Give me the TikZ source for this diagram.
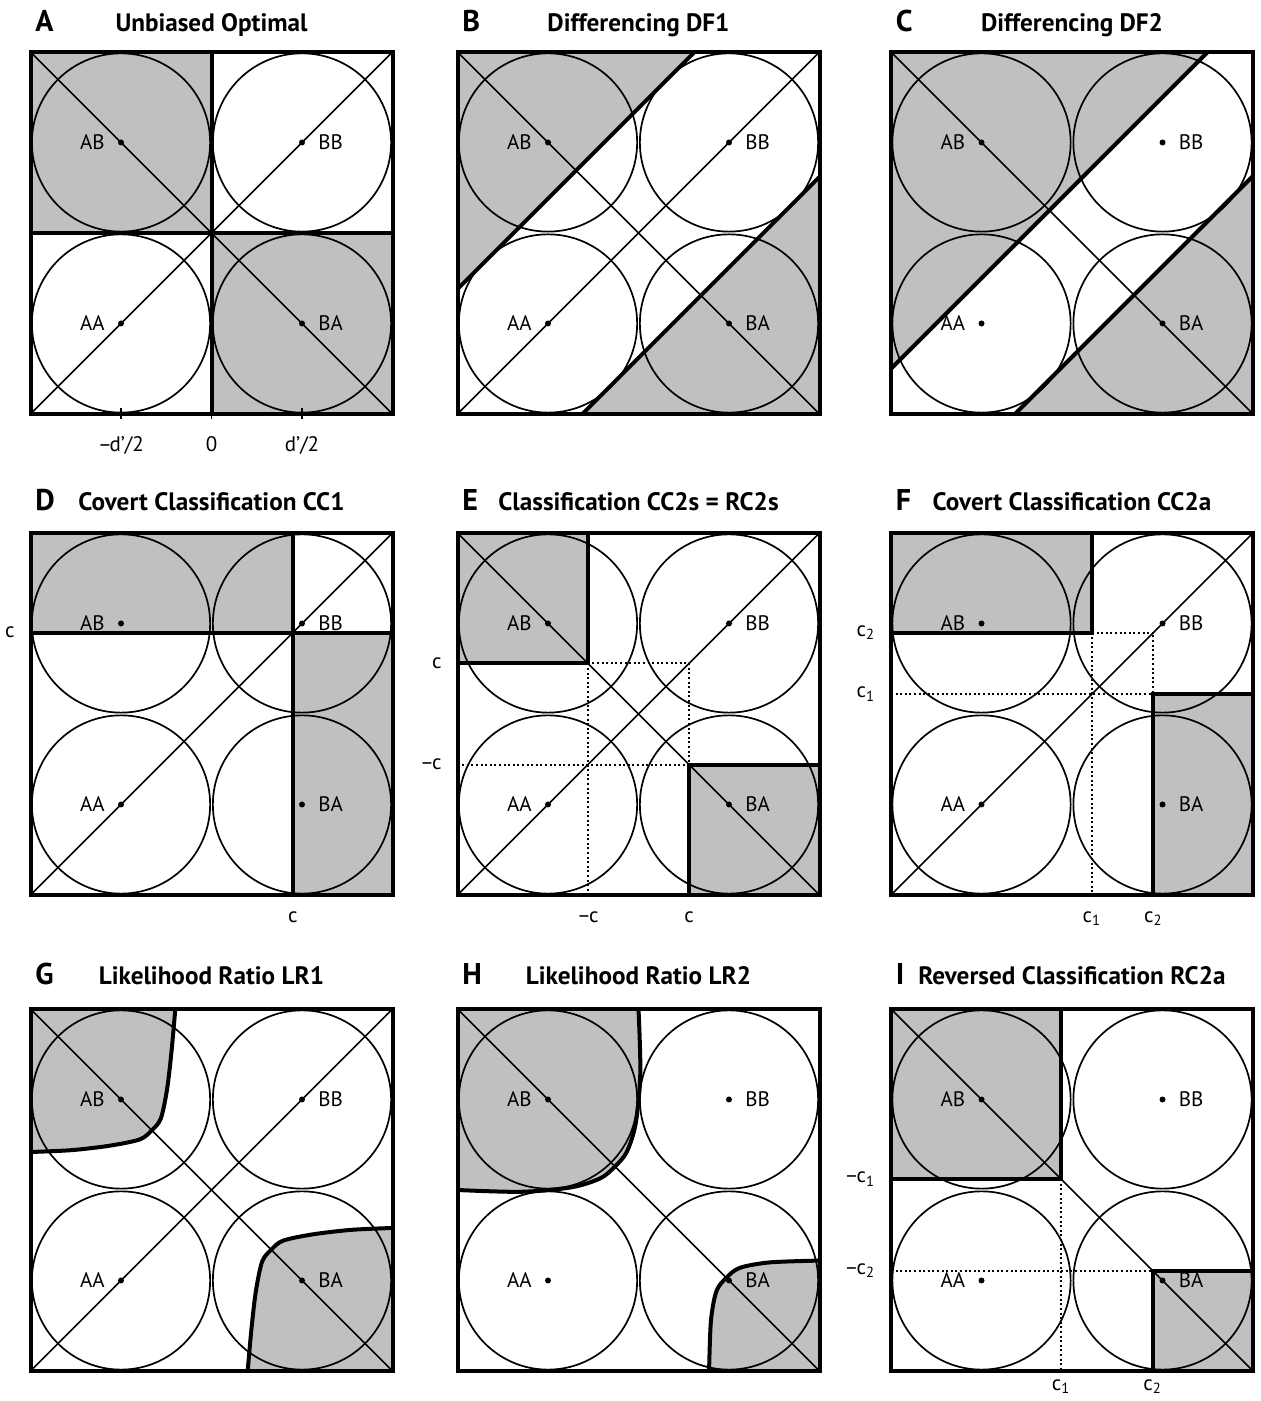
\documentclass[tikz,border=0pt]{standalone}
\usepackage{fontspec}
\setmainfont{PT Sans}
\usepackage{tikz}
\definecolor{sdtgray}{RGB}{190,192,194}

% pieces shared by all nine panels (panel units: disk radius = 1)
\newcommand{\disks}{\draw[fine] (-1,1) circle (0.985) (1,1) circle (0.985)
  (-1,-1) circle (0.985) (1,-1) circle (0.985);}
\newcommand{\maindiag}{\draw[fine] (-2,-2)--(2,2);}
\newcommand{\antidiag}{\draw[fine] (-2,2)--(2,-2);}
\newcommand{\panelbox}{\draw[heavy] (-2,-2) rectangle (2,2);}
\newcommand{\centres}[1]{%
\fill (-1,1) circle (1.5pt) (1,1) circle (1.5pt) (-1,-1) circle (1.5pt) (1,-1) circle (1.5pt);
\node[lbl,left=7pt] (#1ab) at (-1,1) {AB};
\node[lbl,right=7pt] (#1bb) at (1,1) {BB};
\node[lbl,left=7pt] (#1aa) at (-1,-1) {AA};
\node[lbl,right=7pt] (#1ba) at (1,-1) {BA};}
% likelihood-ratio borders
\newcommand{\lrone}{(-0.40,2) (-0.44,1.55) (-0.49,1.12) (-0.56,0.79) (-0.66,0.66)
  (-0.79,0.56) (-1.12,0.49) (-1.55,0.44) (-2,0.42)}
\newcommand{\lronerot}{(0.40,-2) (0.44,-1.55) (0.49,-1.12) (0.56,-0.79) (0.66,-0.66)
  (0.79,-0.56) (1.12,-0.49) (1.55,-0.44) (2,-0.42)}
\newcommand{\lrtwo}{(0,2) (0.02,1.3) (-0.03,0.74) (-0.13,0.42) (-0.26,0.26)
  (-0.42,0.13) (-0.74,0.03) (-1.3,-0.02) (-2,0)}
\newcommand{\lrtwoba}{(0.78,-2) (0.8,-1.45) (0.86,-1.12) (0.97,-0.97)
  (1.12,-0.86) (1.45,-0.8) (2,-0.78)}

\begin{document}
\begin{tikzpicture}[x=0.5pt,y=0.5pt,
  fine/.style={line width=0.85pt},
  heavy/.style={line width=2pt},
  dots/.style={line width=1pt,dash pattern=on 1pt off 1.3pt},
  area/.style={fill=sdtgray},
  lbl/.style={font=\fontsize{10.5}{12}\selectfont,inner sep=1pt},
  ttl/.style={font=\bfseries\fontsize{12.6}{15}\selectfont,anchor=base,inner sep=0pt},
  plet/.style={font=\bfseries\fontsize{15}{17}\selectfont,anchor=base west,inner sep=0pt}]
\useasboundingbox (0,0) rectangle (1261,1401);

% A
\begin{scope}[shift={(211.5,1168)},x=45.25pt,y=45.25pt]
\node[plet] (letA) at (-1.95,2.23) {A};
\node[ttl] (ttlA) at (0,2.23) {Unbiased Optimal};
\fill[area] (-2,0) rectangle (0,2) (0,-2) rectangle (2,0);
\disks \maindiag \antidiag
\draw[heavy] (-2,0)--(2,0) (0,2)--(0,-2);
\panelbox
\draw[fine] (-1,-1.93)--(-1,-2.06) (1,-1.93)--(1,-2.06) (0,-2)--(0,-2.06);
\centres{A}
\node[lbl,anchor=base] (Adl) at (-1,-2.42) {–\kern-1.2pt d’/2};
\node[lbl,anchor=base] (Ad0) at (0,-2.42) {0};
\node[lbl,anchor=base] (Adr) at (1,-2.42) {d’/2};
\end{scope}

% B
\begin{scope}[shift={(638.5,1168)},x=45.25pt,y=45.25pt]
\node[plet] (letB) at (-1.95,2.23) {B};
\node[ttl] (ttlB) at (0,2.23) {Differencing DF1};
\fill[area] (-2,2)--(-2,-0.62)--(0.62,2)--cycle (2,-2)--(-0.62,-2)--(2,0.62)--cycle;
\disks \maindiag \antidiag
\draw[heavy] (-2,-0.62)--(0.62,2) (-0.62,-2)--(2,0.62);
\panelbox
\centres{B}
\end{scope}

% C
\begin{scope}[shift={(1072,1168)},x=45.25pt,y=45.25pt]
\node[plet] (letC) at (-1.95,2.23) {C};
\node[ttl] (ttlC) at (0,2.23) {Differencing DF2};
\fill[area] (-2,2)--(-2,-1.5)--(1.5,2)--cycle (2,-2)--(-0.63,-2)--(2,0.63)--cycle;
\disks \antidiag
\draw[heavy] (-2,-1.5)--(1.5,2) (-0.63,-2)--(2,0.63);
\panelbox
\centres{C}
\end{scope}

% D
\begin{scope}[shift={(211.5,687)},x=45.25pt,y=45.25pt]
\node[plet] (letD) at (-1.95,2.25) {D};
\node[ttl] (ttlD) at (0,2.25) {Covert Classification CC1};
\fill[area] (-2,0.9) rectangle (0.9,2) (0.9,-2) rectangle (2,0.9);
\disks \maindiag
\draw[heavy] (-2,0.9)--(2,0.9) (0.9,2)--(0.9,-2);
\panelbox
\centres{D}
\node[lbl,anchor=east] (Dcy) at (-2.15,0.9) {c};
\node[lbl,anchor=base] (Dcx) at (0.9,-2.3) {c};
\end{scope}

% E
\begin{scope}[shift={(638.5,687)},x=45.25pt,y=45.25pt]
\node[plet] (letE) at (-1.95,2.25) {E};
\node[ttl] (ttlE) at (0,2.25) {Classification CC2s = RC2s};
\fill[area] (-2,0.56) rectangle (-0.56,2) (0.56,-2) rectangle (2,-0.56);
\disks \maindiag \antidiag
\draw[dots] (-0.56,0.56)--(0.56,0.56)--(0.56,-0.56) (-2,-0.56)--(0.56,-0.56)
  (-0.56,0.56)--(-0.56,-2);
\draw[heavy] (-2,0.56)--(-0.56,0.56)--(-0.56,2) (0.56,-2)--(0.56,-0.56)--(2,-0.56);
\panelbox
\centres{E}
\node[lbl,anchor=east] (Ecy) at (-2.15,0.56) {c};
\node[lbl,anchor=east] (Emcy) at (-2.15,-0.56) {–\kern-1pt c};
\node[lbl,anchor=base] (Emcx) at (-0.56,-2.3) {–\kern-1pt c};
\node[lbl,anchor=base] (Ecx) at (0.56,-2.3) {c};
\end{scope}

% F
\begin{scope}[shift={(1072,687)},x=45.25pt,y=45.25pt]
\node[plet] (letF) at (-1.95,2.25) {F};
\node[ttl] (ttlF) at (0,2.25) {Covert Classification CC2a};
\fill[area] (-2,0.9) rectangle (0.22,2) (0.9,-2) rectangle (2,0.22);
\disks \maindiag
\draw[dots] (0.22,0.9)--(0.9,0.9)--(0.9,0.22) (-2,0.22)--(0.9,0.22)
  (0.22,0.9)--(0.22,-2);
\draw[heavy] (-2,0.9)--(0.22,0.9)--(0.22,2) (0.9,-2)--(0.9,0.22)--(2,0.22);
\panelbox
\centres{F}
\node[lbl,anchor=east] (Fctwoy) at (-2.15,0.9) {c\textsubscript{2}};
\node[lbl,anchor=east] (Fconey) at (-2.15,0.22) {c\textsubscript{1}};
\node[lbl,anchor=base] (Fconex) at (0.22,-2.3) {c\textsubscript{1}};
\node[lbl,anchor=base] (Fctwox) at (0.9,-2.3) {c\textsubscript{2}};
\end{scope}

% G
\begin{scope}[shift={(211.5,211)},x=45.25pt,y=45.25pt]
\node[plet] (letG) at (-1.95,2.27) {G};
\node[ttl] (ttlG) at (0,2.27) {Likelihood Ratio LR1};
\fill[area] (-2,2) -- plot[smooth] coordinates {\lrone} -- cycle;
\fill[area] (2,-2) -- plot[smooth] coordinates {\lronerot} -- cycle;
\disks \maindiag \antidiag
\draw[heavy] plot[smooth] coordinates {\lrone};
\draw[heavy] plot[smooth] coordinates {\lronerot};
\panelbox
\centres{G}
\end{scope}

% H
\begin{scope}[shift={(638.5,211)},x=45.25pt,y=45.25pt]
\node[plet] (letH) at (-1.95,2.27) {H};
\node[ttl] (ttlH) at (0,2.27) {Likelihood Ratio LR2};
\fill[area] (-2,2) -- plot[smooth] coordinates {\lrtwo} -- cycle;
\fill[area] (2,-2) -- plot[smooth] coordinates {\lrtwoba} -- cycle;
\disks \antidiag
\draw[heavy] plot[smooth] coordinates {\lrtwo};
\draw[heavy] plot[smooth] coordinates {\lrtwoba};
\panelbox
\centres{H}
\end{scope}

% I
\begin{scope}[shift={(1072,211)},x=45.25pt,y=45.25pt]
\node[plet] (letI) at (-1.95,2.27) {I};
\node[ttl] (ttlI) at (0,2.27) {Reversed Classification RC2a};
\fill[area] (-2,0.12) rectangle (-0.12,2) (0.89,-2) rectangle (2,-0.89);
\disks \antidiag
\draw[dots] (-0.12,0.12)--(-0.12,-2) (-2,-0.89)--(0.89,-0.89);
\draw[heavy] (-2,0.12)--(-0.12,0.12)--(-0.12,2) (0.89,-2)--(0.89,-0.89)--(2,-0.89);
\panelbox
\centres{I}
\node[lbl,anchor=east] (Imconey) at (-2.15,0.12) {–\kern-1pt c\textsubscript{1}};
\node[lbl,anchor=east] (Imctwoy) at (-2.15,-0.89) {–\kern-1pt c\textsubscript{2}};
\node[lbl,anchor=base] (Iconex) at (-0.12,-2.21) {c\textsubscript{1}};
\node[lbl,anchor=base] (Ictwox) at (0.89,-2.21) {c\textsubscript{2}};
\end{scope}
\end{tikzpicture}
\end{document}
